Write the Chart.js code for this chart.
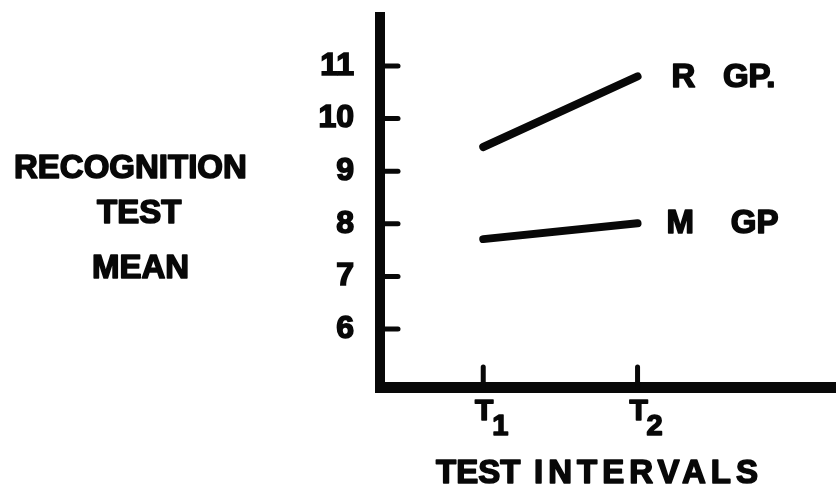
<!DOCTYPE html>
<html>
<head>
<meta charset="utf-8">
<script src="https://cdn.jsdelivr.net/npm/chart.js@4.4.0/dist/chart.umd.min.js"></script>
<style>
  html, body { margin: 0; padding: 0; background: #fff; }
</style>
</head>
<body>
<canvas id="chart" width="836" height="492"></canvas>
<script>
// data
const intervals = [1, 2];
const intervalSubs = ['1', '2'];
const rGroup = [9.46, 10.80];
const mGroup = [7.71, 8.01];
const groupNames = ['R   GP.', 'M    GP'];
const yTicks = [6, 7, 8, 9, 10, 11];
const yTitle = ['RECOGNITION', 'TEST', 'MEAN'];
const xTitle = ['TEST', 'INTERVALS'];

const INK = '#080808';
const LETTER = 'Liberation Sans';

// heavy lettering: fill plus a thin outline
function ink(ctx, s, x, y) {
  ctx.fillText(s, x, y);
  ctx.strokeText(s, x, y);
}

// inward tick marks, T-subscript labels, group names and the two titles
const figureText = {
  id: 'figureText',
  afterDraw(chart) {
    const { ctx, scales: { x, y } } = chart;
    ctx.save();
    ctx.strokeStyle = INK;
    ctx.fillStyle = INK;
    ctx.lineWidth = 5;
    ctx.lineCap = 'round';
    y.ticks.forEach(t => {
      const py = y.getPixelForValue(t.value);
      ctx.beginPath(); ctx.moveTo(x.left, py); ctx.lineTo(x.left + 18, py); ctx.stroke();
    });
    x.ticks.forEach(t => {
      const px = x.getPixelForValue(t.value);
      ctx.beginPath(); ctx.moveTo(px, y.bottom); ctx.lineTo(px, y.bottom - 20); ctx.stroke();
    });

    ctx.lineWidth = 1.6;
    ctx.lineJoin = 'round';

    // T1 / T2
    ctx.textBaseline = 'alphabetic';
    x.ticks.forEach((t, i) => {
      const px = x.getPixelForValue(t.value);
      ctx.textAlign = 'center';
      ctx.font = `bold 30px "${LETTER}"`;
      ink(ctx, 'T', px + 1, y.bottom + 33);
      ctx.textAlign = 'left';
      ctx.font = `bold 29px "${LETTER}"`;
      ink(ctx, intervalSubs[i], px + 9, y.bottom + 48);
    });

    // x title, two words
    ctx.font = `bold 33px "${LETTER}"`;
    ctx.textAlign = 'left';
    ink(ctx, xTitle[0], x.left + 56, y.bottom + 96);
    if ('letterSpacing' in ctx) ctx.letterSpacing = '5px';
    ink(ctx, xTitle[1], x.left + 154, y.bottom + 96);
    if ('letterSpacing' in ctx) ctx.letterSpacing = '0px';

    // group names at the end of each line
    ctx.textBaseline = 'middle';
    const nameGap = [34, 29];
    chart.data.datasets.forEach((ds, i) => {
      const pts = chart.getDatasetMeta(i).data;
      const last = pts[pts.length - 1];
      ink(ctx, groupNames[i], last.x + nameGap[i], last.y + 1);
    });

    // left title
    ctx.textBaseline = 'alphabetic';
    const lefts = [14, 97, 92];
    const baselines = [178, 223, 278];
    yTitle.forEach((s, i) => ink(ctx, s, lefts[i], baselines[i]));
    ctx.restore();
  }
};

const lineStyle = { borderColor: INK, borderWidth: 8, pointRadius: 0, tension: 0, borderCapStyle: 'round', fill: false, clip: false };

new Chart(document.getElementById('chart'), {
  type: 'line',
  data: {
    datasets: [
      { label: groupNames[0], data: intervals.map((v, i) => ({ x: v, y: rGroup[i] })), ...lineStyle },
      { label: groupNames[1], data: intervals.map((v, i) => ({ x: v, y: mGroup[i] })), ...lineStyle }
    ]
  },
  options: {
    responsive: false, animation: false, devicePixelRatio: 1,
    layout: { padding: { top: 17, right: 0, bottom: 0, left: 0 } },
    plugins: { legend: { display: false }, tooltip: { enabled: false } },
    scales: {
      x: {
        type: 'linear', min: 0.331, max: 3.286,
        afterBuildTicks: s => { s.ticks = intervals.map(v => ({ value: v })); },
        afterFit: s => { s.height = 105; s.paddingLeft = 0; s.paddingRight = 0; },
        grid: { display: true, drawOnChartArea: false, drawTicks: false },
        border: { display: true, color: INK, width: 11 },
        ticks: { display: false }
      },
      y: {
        min: 4.9, max: 11.93,
        afterBuildTicks: s => { s.ticks = yTicks.map(v => ({ value: v })); },
        afterFit: s => { s.width = 380; s.paddingTop = 0; s.paddingBottom = 0; },
        grid: { display: true, drawOnChartArea: false, drawTicks: false },
        border: { display: true, color: INK, width: 10 },
        ticks: {
          color: INK, padding: 26, textStrokeColor: INK, textStrokeWidth: 1.6,
          font: { family: LETTER, weight: 'bold', size: 32 }
        }
      }
    }
  },
  plugins: [figureText]
});
</script>
</body>
</html>
